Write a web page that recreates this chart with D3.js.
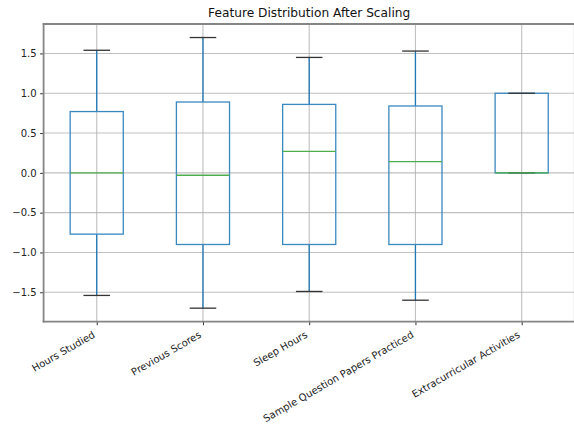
<!DOCTYPE html>
<html>
<head>
<meta charset="utf-8">
<script src="https://cdn.jsdelivr.net/npm/d3@7"></script>
<style>
  html, body { margin: 0; padding: 0; background: #fff; }
  svg { display: block; font-family: "DejaVu Sans", sans-serif; }
</style>
</head>
<body>
<svg id="chart" width="574" height="425"></svg>
<script>
const categories = ["Hours Studied", "Previous Scores", "Sleep Hours", "Sample Question Papers Practiced", "Extracurricular Activities"];
const whiskerLow = [-1.54, -1.70, -1.49, -1.60, 0.0];
const q1Values   = [-0.77, -0.90, -0.90, -0.90, 0.0];
const medians    = [0.0, -0.03, 0.27, 0.14, 0.0];
const q3Values   = [0.77, 0.89, 0.86, 0.84, 1.0];
const whiskerHigh= [1.54, 1.70, 1.45, 1.53, 1.0];
const yTicks = [-1.5, -1.0, -0.5, 0.0, 0.5, 1.0, 1.5];
const title = "Feature Distribution After Scaling";

const boxes = categories.map((c, i) => ({
  name: c, pos: i + 1,
  lo: whiskerLow[i], q1: q1Values[i], med: medians[i], q3: q3Values[i], hi: whiskerHigh[i]
}));

const svg = d3.select("#chart");
const mLeft = 43.6, mRight = 574.8, mTop = 24, mBottom = 321.7;

const x = d3.scaleLinear().domain([0.5, categories.length + 0.5]).range([mLeft, mRight]);
const y = d3.scaleLinear().domain([-1.87, 1.87]).range([mBottom, mTop]);

// grid
const grid = svg.append("g");
grid.selectAll("line.gy").data(yTicks).join("line")
  .attr("x1", mLeft).attr("x2", mRight)
  .attr("y1", d => y(d)).attr("y2", d => y(d))
  .attr("stroke", "#b0b0b0").attr("stroke-opacity", 0.8).attr("stroke-width", 1.1);
grid.selectAll("line.gx").data(boxes).join("line")
  .attr("y1", mTop).attr("y2", mBottom)
  .attr("x1", d => x(d.pos)).attr("x2", d => x(d.pos))
  .attr("stroke", "#b0b0b0").attr("stroke-opacity", 0.8).attr("stroke-width", 1.1);

// axes
const yAxis = d3.axisLeft(y).tickValues(yTicks).tickSize(3.5).tickPadding(3.5)
  .tickFormat(d => d3.format(".1f")(d).replace("-", "\u2212"));
const gy = svg.append("g").attr("transform", `translate(${mLeft},0)`).call(yAxis);
gy.select(".domain").remove();
gy.selectAll("line").attr("stroke", "#333");
gy.selectAll("text").attr("font-size", 10).attr("fill", "#222").attr("font-family", "DejaVu Sans");

const xAxis = d3.axisBottom(x).tickValues(boxes.map(b => b.pos)).tickSize(3.5).tickFormat("");
const gx = svg.append("g").attr("transform", `translate(0,${mBottom})`).call(xAxis);
gx.select(".domain").remove();
gx.selectAll("line").attr("stroke", "#333");

svg.append("g").selectAll("text").data(boxes).join("text")
  .attr("transform", d => `translate(${x(d.pos) - 1},${mBottom + 15}) rotate(-30)`)
  .attr("text-anchor", "end")
  .attr("font-size", 10).attr("fill", "#222")
  .text(d => d.name);

// spines
const spines = [
  [mLeft, mTop, mLeft, mBottom],
  [mLeft, mBottom, mRight, mBottom],
  [mLeft, mTop, mRight, mTop],
  [mRight, mTop, mRight, mBottom]
];
svg.append("g").selectAll("line").data(spines).join("line")
  .attr("x1", d => d[0]).attr("y1", d => d[1]).attr("x2", d => d[2]).attr("y2", d => d[3])
  .attr("stroke", "#858585").attr("stroke-width", 1.8).attr("stroke-linecap", "square");

// boxes
const bw = x(1.25) - x(1);
const cw = x(1.125) - x(1);
const sw = 1.3;
const gb = svg.append("g").selectAll("g").data(boxes).join("g");
gb.append("line").attr("x1", d => x(d.pos)).attr("x2", d => x(d.pos))
  .attr("y1", d => y(d.q3)).attr("y2", d => y(d.hi)).attr("stroke", "#1f77b4").attr("stroke-width", sw);
gb.append("line").attr("x1", d => x(d.pos)).attr("x2", d => x(d.pos))
  .attr("y1", d => y(d.q1)).attr("y2", d => y(d.lo)).attr("stroke", "#1f77b4").attr("stroke-width", sw);
gb.append("rect")
  .attr("x", d => x(d.pos) - bw).attr("width", 2 * bw)
  .attr("y", d => y(d.q3)).attr("height", d => y(d.q1) - y(d.q3))
  .attr("fill", "none").attr("stroke", "#3a88c0").attr("stroke-width", sw);
gb.append("line").attr("x1", d => x(d.pos) - cw).attr("x2", d => x(d.pos) + cw)
  .attr("y1", d => y(d.hi)).attr("y2", d => y(d.hi)).attr("stroke", "#333").attr("stroke-width", sw);
gb.append("line").attr("x1", d => x(d.pos) - cw).attr("x2", d => x(d.pos) + cw)
  .attr("y1", d => y(d.lo)).attr("y2", d => y(d.lo)).attr("stroke", "#333").attr("stroke-width", sw);
gb.append("line").attr("x1", d => x(d.pos) - bw).attr("x2", d => x(d.pos) + bw)
  .attr("y1", d => y(d.med)).attr("y2", d => y(d.med)).attr("stroke", "#4caf4c").attr("stroke-width", sw);

svg.append("text").attr("x", (mLeft + mRight) / 2).attr("y", 17)
  .attr("text-anchor", "middle").attr("font-size", 12.2).attr("fill", "#111")
  .text(title);
</script>
</body>
</html>
